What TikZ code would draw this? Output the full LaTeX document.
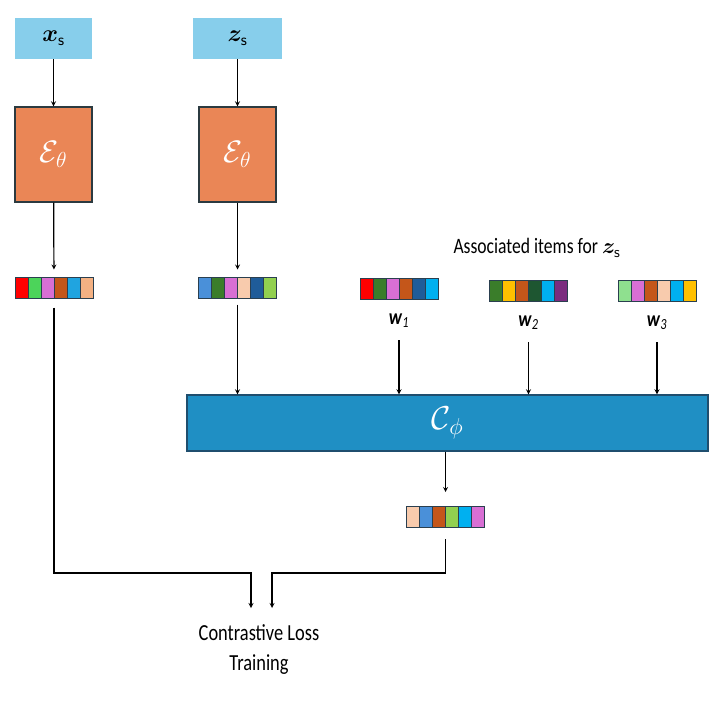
\RequirePackage{fix-cm}
\documentclass[tikz,border=0pt]{standalone}
\usepackage{fontspec}
\setmainfont{Carlito}[FakeStretch=0.8]
\usepackage{amsmath,amssymb}
\usepackage{bm}
\usetikzlibrary{calc}
\usetikzlibrary{arrows,positioning}
\tikzset{>=stealth}

\definecolor{inblue}{HTML}{87CEEB}
\definecolor{encorange}{HTML}{EA8656}
\definecolor{encborder}{HTML}{2B3A40}
\definecolor{clsblue}{HTML}{1F8FC4}
\definecolor{clsborder}{HTML}{1F4E6E}
\definecolor{vecborder}{HTML}{2A3F4F}
\definecolor{cred}{HTML}{FF0000}
\definecolor{cgreen}{HTML}{4CD45A}
\definecolor{corchid}{HTML}{D86FD4}
\definecolor{crust}{HTML}{C4561A}
\definecolor{csky}{HTML}{20A4E0}
\definecolor{cpeach}{HTML}{F4B183}
\definecolor{cpeachl}{HTML}{F8CBAD}
\definecolor{ccorn}{HTML}{4A90D9}
\definecolor{cforest}{HTML}{3A7D2A}
\definecolor{cnavy}{HTML}{1F5C99}
\definecolor{clime}{HTML}{92D050}
\definecolor{ccyan}{HTML}{00B0F0}
\definecolor{cgold}{HTML}{FFC000}
\definecolor{cdkgreen}{HTML}{1E5631}
\definecolor{cpurple}{HTML}{7B2C7F}
\definecolor{cmint}{HTML}{8FE08F}

% a row of six coloured cells, named #1, centred at (#2,#3)
\newcommand{\vecbar}[4]{%
  \foreach \c [count=\i] in {#4}
    \fill[\c] (#2-52+13*\i,#3-10.5) rectangle ++(13,21);
  \foreach \i in {1,...,5}
    \draw[vecborder, line width=0.9pt] (#2-39+13*\i,#3-10.5) -- ++(0,21);
  \node[vecbox] (#1) at (#2,#3) {};
}

\begin{document}
\begin{tikzpicture}[x=1pt,y=-1pt,
    inbox/.style={fill=inblue, minimum height=41pt, inner sep=0pt, font=\fontsize{24}{26}\selectfont},
    encbox/.style={fill=encorange, draw=encborder, line width=1.4pt, minimum width=77pt, minimum height=95pt, text=white, font=\fontsize{31}{34}\selectfont},
    vecbox/.style={draw=vecborder, line width=1pt, minimum width=78pt, minimum height=21pt, inner sep=0pt},
    lbl/.style={font=\fontsize{22}{26}\selectfont, inner sep=0pt},
    flow/.style={->, line width=1.2pt}]
  \useasboundingbox (0,0) rectangle (717,717);

  % inputs and encoders
  \node[inbox, minimum width=77pt] (xs) at (53.5,38.5) {$\bm{x}_{\textsf{s}}$};
  \node[inbox, minimum width=89pt] (zs) at (237.5,38.5) {$\bm{z}_{\textsf{s}}$};
  \node[encbox] (encx) at (53.5,154.5) {$\mathcal{E}_\theta$};
  \node[encbox] (encz) at (237.5,154.5) {$\mathcal{E}_\theta$};

  % embeddings
  \vecbar{vx}{54}{287.5}{cred,cgreen,corchid,crust,csky,cpeach}
  \vecbar{vz}{237.5}{287.5}{ccorn,cforest,corchid,cpeachl,cnavy,clime}
  \vecbar{w1}{399}{288.5}{cred,cforest,corchid,crust,cnavy,ccyan}
  \vecbar{w2}{528.5}{290.5}{cforest,cgold,crust,cdkgreen,ccyan,cpurple}
  \vecbar{w3}{657}{290.5}{cmint,corchid,crust,cpeachl,ccyan,cgold}

  \node[lbl] (assoc) at (537,248) {Associated items for $\bm{z}_{\textsf{s}}$};
  \node[lbl] (w1lab) at (399,321) {\textbf{\textit{w}}\textsubscript{\textit{1}}};
  \node[lbl] (w2lab) at (528.5,323) {\textbf{\textit{w}}\textsubscript{\textit{2}}};
  \node[lbl] (w3lab) at (657,323) {\textbf{\textit{w}}\textsubscript{\textit{3}}};

  % classifier
  \node[fill=clsblue, draw=clsborder, line width=1.4pt, minimum width=521pt, minimum height=56pt,
        text=white, font=\fontsize{33}{36}\selectfont] (cls) at (447.5,423) {$\mathcal{C}_\phi$};
  \vecbar{vout}{445.5}{517}{cpeachl,ccorn,crust,clime,ccyan,corchid}

  \node[lbl, align=center, font=\fontsize{23}{30}\selectfont] (loss) at (259,650) {Contrastive Loss\\Training};
  \coordinate (lossL) at (251,608);
  \coordinate (lossR) at (272,608);

  % connectors
  \draw[flow] (xs) -- (encx);
  \draw[flow] (zs) -- (encz);
  \draw[flow, shorten >=7pt] (encx) -- (vx);
  \draw[flow, shorten >=7pt] (encz) -- (vz);
  \draw[flow, shorten <=6pt] (vz.south) -- (vz.south |- cls.north);
  \foreach \w in {w1lab,w2lab,w3lab}
    \draw[flow, shorten <=12pt] (\w.south) -- (\w.south |- cls.north);
  \draw[flow, shorten >=14pt] (cls.south -| vout.north) -- (vout.north);
  \draw[flow, shorten <=9pt] (vx.south) |- ($(lossL)+(0,-35)$) -- (lossL);
  \draw[flow, shorten <=11pt] (vout.south) |- ($(lossR)+(0,-35)$) -- (lossR);
\end{tikzpicture}
\end{document}
